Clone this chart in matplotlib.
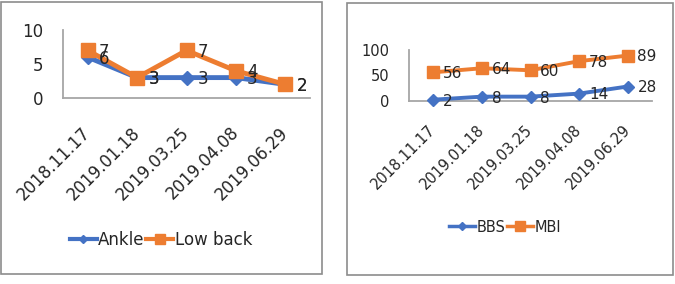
import matplotlib
matplotlib.use("Agg")
import matplotlib.pyplot as plt
from matplotlib.lines import Line2D
from matplotlib.patches import Rectangle

dates = ["2018.11.17", "2019.01.18", "2019.03.25", "2019.04.08", "2019.06.29"]
ankle = [6, 3, 3, 3, 2]
low_back = [7, 3, 7, 4, 2]
bbs = [2, 8, 8, 14, 28]
mbi = [56, 64, 60, 78, 89]

BLUE = "#4472C4"
ORANGE = "#ED7D31"
SPINE = "#A6A6A6"
TXT = "#262626"

W, H = 675, 284
fig = plt.figure(figsize=(W / 100, H / 100), dpi=100)

def px_axes(x0, y0, x1, y1):
    return fig.add_axes([x0 / W, 1 - y1 / H, (x1 - x0) / W, (y1 - y0) / H])

# panel frames
fig.patches.append(Rectangle((0.5 / W, 1 - 274 / H), 321 / W, 272 / H,
                             transform=fig.transFigure, fill=False,
                             edgecolor="#8C8C8C", linewidth=1.2))
fig.patches.append(Rectangle((347 / W, 1 - 274.5 / H), 326 / W, 272 / H,
                             transform=fig.transFigure, fill=False,
                             edgecolor="#8C8C8C", linewidth=1.2))

def style(ax, fs, ypad, xpad):
    for s in ["top", "right"]:
        ax.spines[s].set_visible(False)
    for s in ["left", "bottom"]:
        ax.spines[s].set_color(SPINE)
        ax.spines[s].set_linewidth(1.3)
    ax.tick_params(length=0, labelsize=fs, colors=TXT)
    ax.tick_params(axis="y", pad=ypad)
    ax.tick_params(axis="x", pad=xpad)
    ax.set_xlim(-0.5, len(dates) - 0.5)
    ax.set_xticks(range(len(dates)))
    ax.set_xticklabels(dates, rotation=45, ha="right", rotation_mode="anchor")
    for lab in ax.get_xticklabels():
        lab.set_va("center")

x = list(range(len(dates)))

# left chart
ax1 = px_axes(63, 30, 310, 98)
style(ax1, 12, 14, 23)
ax1.set_ylim(0, 10)
ax1.set_yticks([0, 5, 10])
ax1.plot(x, ankle, color=BLUE, lw=3.5, marker="D", ms=7, zorder=3)
ax1.plot(x, low_back, color=ORANGE, lw=3.5, marker="s", ms=10, zorder=3)
for xi, v in zip(x, ankle):
    ax1.annotate(str(v), (xi, v), xytext=(8, -1), textcoords="offset points",
                 va="center", ha="left", fontsize=12, color=TXT, zorder=5)
for xi, v in zip(x, low_back):
    ax1.annotate(str(v), (xi, v), xytext=(8, -1), textcoords="offset points",
                 va="center", ha="left", fontsize=12, color=TXT, zorder=5)

h1 = [Line2D([], [], color=BLUE, lw=3, marker="D", ms=4.5),
      Line2D([], [], color=ORANGE, lw=3, marker="s", ms=7)]
fig.legend(h1, ["Ankle", "Low back"], loc="center",
           bbox_to_anchor=(161 / W, 1 - 240 / H), ncol=2, frameon=False,
           fontsize=12, handlelength=1.6, handletextpad=0.1,
           columnspacing=0.1, labelcolor=TXT)

# right chart
ax2 = px_axes(409, 50, 652, 100.7)
style(ax2, 10.5, 14, 19)
ax2.set_ylim(0, 100)
ax2.set_yticks([0, 50, 100])
ax2.plot(x, bbs, color=BLUE, lw=2.8, marker="D", ms=6, zorder=3, clip_on=False)
ax2.plot(x, mbi, color=ORANGE, lw=2.8, marker="s", ms=8, zorder=3, clip_on=False)
for xi, v in zip(x, bbs):
    ax2.annotate(str(v), (xi, v), xytext=(7, -1), textcoords="offset points",
                 va="center", ha="left", fontsize=11, color=TXT, zorder=5)
for xi, v in zip(x, mbi):
    ax2.annotate(str(v), (xi, v), xytext=(7, -1), textcoords="offset points",
                 va="center", ha="left", fontsize=11, color=TXT, zorder=5)

h2 = [Line2D([], [], color=BLUE, lw=2.5, marker="D", ms=4.5),
      Line2D([], [], color=ORANGE, lw=2.5, marker="s", ms=7)]
fig.legend(h2, ["BBS", "MBI"], loc="center",
           bbox_to_anchor=(505 / W, 1 - 227 / H), ncol=2, frameon=False,
           fontsize=10.5, handlelength=1.8, handletextpad=0.1,
           columnspacing=0.1, labelcolor=TXT)

fig.savefig("out.png", dpi=100)
